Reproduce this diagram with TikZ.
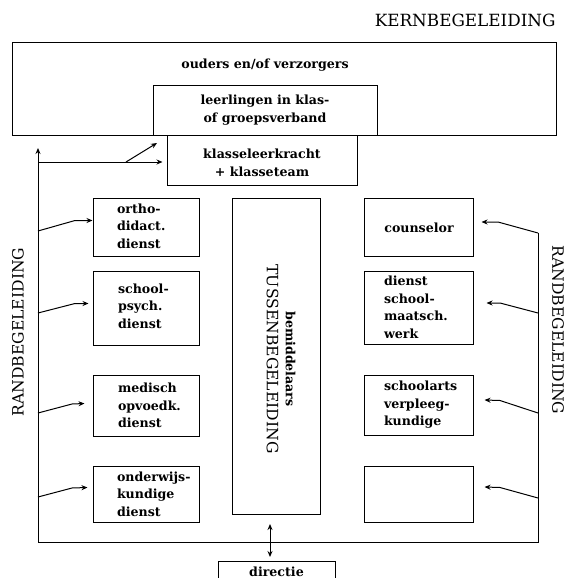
\documentclass[tikz,border=0pt]{standalone}
\usepackage{fontspec}
\setmainfont{DejaVu Serif}
\usetikzlibrary{arrows.meta}
\begin{document}
\begin{tikzpicture}[x=1pt,y=-1pt,line width=1pt,
  bfont/.style={font=\bfseries\fontsize{12.6}{17.5}\selectfont},
  cfont/.style={font=\fontsize{15.6}{18}\selectfont},
  frame/.style={draw,rectangle,inner sep=0pt},
  txt/.style={bfont,align=left,inner sep=0pt,anchor=west},
  ctxt/.style={bfont,align=center,inner sep=0pt},
  arr/.style={-{Stealth[length=6pt,width=5pt]}},
  darr/.style={{Stealth[length=6pt,width=5pt]}-{Stealth[length=6pt,width=5pt]}}]
\useasboundingbox (0,0) rectangle (566,578);
% top
\node[font=\fontsize{16.8}{18}\selectfont,anchor=east,inner sep=0pt] (kern) at (556,20) {KERNBEGELEIDING};
\node[frame,minimum width=544pt,minimum height=92pt] (ouders) at (284,89) {};
\node[ctxt] (oudtxt) at (265,65) {ouders en/of verzorgers};
\node[frame,fill=white,minimum width=224pt,minimum height=50pt] (leer) at (265,110) {};
\node[ctxt] (leertxt) at (265,110) {leerlingen in klas-\\of groepsverband};
\node[frame,minimum width=190pt,minimum height=50pt] (klas) at (262,160) {};
\node[ctxt] (klastxt) at (262,163) {klasseleerkracht\\+ klasseteam};
% left boxes
\node[frame,minimum width=106pt,minimum height=58pt] (ortho) at (146,227) {};
\node[txt] (orthotxt) at ([xshift=24pt,yshift=1pt]ortho.west) {ortho-\\didact.\\dienst};
\node[frame,minimum width=106pt,minimum height=74pt] (psych) at (146,308) {};
\node[txt] (psychtxt) at ([xshift=25pt,yshift=2pt]psych.west) {school-\\psych.\\dienst};
\node[frame,minimum width=106pt,minimum height=61pt] (med) at (146,405.5) {};
\node[txt] (medtxt) at ([xshift=25pt]med.west) {medisch\\opvoedk.\\dienst};
\node[frame,minimum width=106pt,minimum height=56pt] (ond) at (146,494) {};
\node[txt] (ondtxt) at ([xshift=24pt]ond.west) {onderwijs-\\kundige\\dienst};
% right boxes
\node[frame,minimum width=109pt,minimum height=58pt] (couns) at (418.5,227) {};
\node[ctxt] (counstxt) at (419,228) {counselor};
\node[frame,minimum width=109pt,minimum height=73pt] (maat) at (418.5,307.5) {};
\node[txt] (maattxt) at ([xshift=20pt]maat.west) {dienst\\school-\\maatsch.\\werk};
\node[frame,minimum width=109pt,minimum height=60pt] (arts) at (418.5,405) {};
\node[txt] (artstxt) at ([xshift=20pt]arts.west) {schoolarts\\verpleeg-\\kundige};
\node[frame,minimum width=109pt,minimum height=56pt] (leeg) at (418.5,494) {};
% middle
\node[frame,minimum width=88pt,minimum height=316pt] (mid) at (276,356) {};
\node[rotate=-90,align=center,inner sep=0pt,font=\fontsize{15.6}{19}\selectfont] (midtxt) at (281,359) {{\bfseries\fontsize{12.6}{19}\selectfont bemiddelaars}\\{\fontsize{15.6}{19}\selectfont TUSSENBEGELEIDING}};
% side labels
\node[cfont,rotate=90,inner sep=0pt] (randl) at (18,332) {RANDBEGELEIDING};
\node[cfont,rotate=-90,inner sep=0pt] (randr) at (558,330) {RANDBEGELEIDING};
% directie
\node[frame,bfont,anchor=north,minimum width=117pt,inner ysep=5pt,text depth=25pt] (dir) at (276.5,561) {directie};
% frame lines
\coordinate (lt) at (38,148);
\coordinate (lb) at (38,542);
\coordinate (rb) at (538,542);
\coordinate (rt) at (538,233);
\draw[arr] (lb) -- (lt);
\draw (lb) -- (rb) -- (rt);
% top arrows
\coordinate (h0) at (38,162);
\coordinate (h1) at (126,162);
\draw[arr] (h0) -- ([xshift=-4pt]klas.west |- h0);
\draw[arr] (h1) -- (157,143);
% left arrows
\draw[arr] (38,231) -- (75,220.5) -- (ortho.west |- 0,220.5);
\draw[arr] (38,313) -- (75,303.5) -- ([xshift=-4pt]psych.west |- 0,303.5);
\draw[arr] (38,413) -- (72,404) -- ([xshift=-8pt]med.west |- 0,403.5);
\draw[arr] (38,497) -- (72,488) -- ([xshift=-5pt]ond.west |- 0,487.5);
% right arrows
\draw[arr] (rt) -- (498,222) -- ([xshift=8pt]couns.east |- 0,222);
\draw[arr] (538,313) -- (500,303) -- ([xshift=13pt]maat.east |- 0,303);
\draw[arr] (538,413) -- (500,400.5) -- ([xshift=11pt]arts.east |- 0,400);
\draw[arr] (538,498) -- (500,487.5) -- ([xshift=11pt]leeg.east |- 0,487);
% directie arrow
\coordinate (d0) at (270,524);
\coordinate (d1) at (270,557);
\draw[darr] (d0) -- (d1);
\end{tikzpicture}
\end{document}
